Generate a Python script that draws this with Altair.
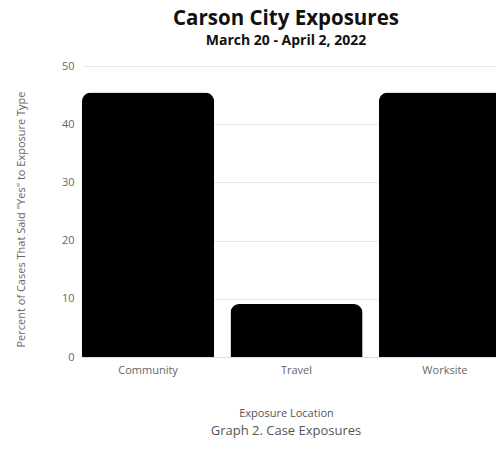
import altair as alt
import pandas as pd

categories = ["Community", "Travel", "Worksite"]
values = [45.45, 9.09, 45.45]

df = pd.DataFrame({"Exposure Location": categories, "Percent": values})

FONT = "Open Sans"

bars = alt.Chart(df).mark_bar(
    color="#000000", cornerRadiusTopLeft=9, cornerRadiusTopRight=9
).encode(
    x=alt.X("Exposure Location:N", sort=categories,
            scale=alt.Scale(paddingInner=0.11, paddingOuter=0, range=[0, 429]),
            axis=alt.Axis(title="Exposure Location", labelAngle=0, labelPadding=7,
                          titlePadding=32, ticks=False, domainColor="#dddddd",
                          labelColor="#666666", titleColor="#555555",
                          labelFontSize=11, titleFontSize=11, titleFontWeight="normal",
                          titleX=204)),
    y=alt.Y("Percent:Q", scale=alt.Scale(domain=[0, 50]),
            axis=alt.Axis(title='Percent of Cases That Said "Yes" to Exposure Type',
                          values=[0, 10, 20, 30, 40, 50], ticks=False, domain=False,
                          gridColor="#e8e8e8", labelColor="#666666", titleColor="#666666",
                          labelFontSize=11, titleFontSize=11, titleFontWeight="normal",
                          labelPadding=8, titleX=-56, titleY=153)),
)

caption = alt.Chart(pd.DataFrame({"t": ["Graph 2. Case Exposures"]})).mark_text(
    font=FONT, fontSize=13, color="#555555", align="center", baseline="middle"
).encode(
    text="t:N", x=alt.value(204), y=alt.value(365)
)

chart = alt.layer(bars, caption).properties(
    width=414, height=291,
    autosize=alt.AutoSizeParams(type="none"),
    title=alt.TitleParams(
        text="Carson City Exposures",
        subtitle="March 20 - April 2, 2022",
        fontSize=20.5, fontWeight="bold", font=FONT, color="#111111",
        subtitleFontSize=14, subtitleFontWeight="bold", subtitleFont=FONT,
        subtitleColor="#111111", anchor="middle", dx=-3, offset=12,
        subtitlePadding=5,
    ),
    padding={"left": 74, "top": 58, "right": 0, "bottom": 84},
).configure(font=FONT).configure_view(stroke=None)

chart.save("out.html", embed_options={"renderer": "svg", "actions": False})
